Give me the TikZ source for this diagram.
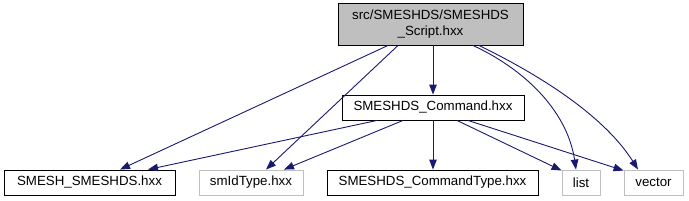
\documentclass[tikz,border=0pt]{standalone}
\usepackage{fontspec}
\setmainfont{Liberation Sans}
\usetikzlibrary{arrows.meta}
\definecolor{edgeblue}{HTML}{191970}
\definecolor{lightgr}{HTML}{BFBFBF}
\begin{document}
\begin{tikzpicture}[x=1pt,y=-1pt,
  box/.style={draw=black, line width=0.9pt, rectangle, inner sep=0pt, minimum height=25pt, font=\fontsize{13.3}{15.5}\selectfont},
  gbox/.style={box, draw=lightgr},
  dep/.style={draw=edgeblue, line width=0.9pt, -{Triangle[length=10pt,width=7.5pt]}}]
\useasboundingbox (0,0) rectangle (689,201);
\node[box, fill=lightgr, minimum width=185pt, minimum height=42pt, align=center] (top) at (430.5,24) {src/SMESHDS/SMESHDS\\\_Script.hxx};
\node[box, minimum width=182pt] (cmd) at (433,107.5) {SMESHDS\_Command.hxx};
\node[box, minimum width=171pt] (smesh) at (89.5,182.5) {SMESH\_SMESHDS.hxx};
\node[gbox, minimum width=104pt] (smid) at (251,182.5) {smIdType.hxx};
\node[box, minimum width=211pt] (cmdtype) at (432.5,182.5) {SMESHDS\_CommandType.hxx};
\node[gbox, minimum width=38pt] (list) at (581,182.5) {list};
\node[gbox, minimum width=59pt] (vector) at (653.5,182.5) {vector};
% edges from top
\draw[dep] ([xshift=-42.5pt]top.south) -- ([xshift=30.5pt]smesh.north);
\draw[dep] ([xshift=-32.5pt]top.south) -- ([xshift=15pt]smid.north);
\draw[dep] (top.south -| cmd.north) -- (cmd.north);
\draw[dep] ([xshift=42.5pt]top.south) .. controls (530,72) and (568,115) .. ([xshift=-5pt]list.north);
\draw[dep] ([xshift=48.5pt]top.south) .. controls (560,85) and (610,125) .. ([xshift=-15.5pt]vector.north);
% edges from cmd
\draw[dep] ([xshift=-56pt]cmd.south) -- ([xshift=58.5pt]smesh.north);
\draw[dep] ([xshift=-30pt]cmd.south) -- ([xshift=33pt]smid.north);
\draw[dep] (cmd.south) -- (cmd.south |- cmdtype.north);
\draw[dep] ([xshift=24pt]cmd.south) -- ([yshift=-1pt]list.north west);
\draw[dep] ([xshift=35pt]cmd.south) -- ([yshift=-1pt]vector.north west);
\end{tikzpicture}
\end{document}
